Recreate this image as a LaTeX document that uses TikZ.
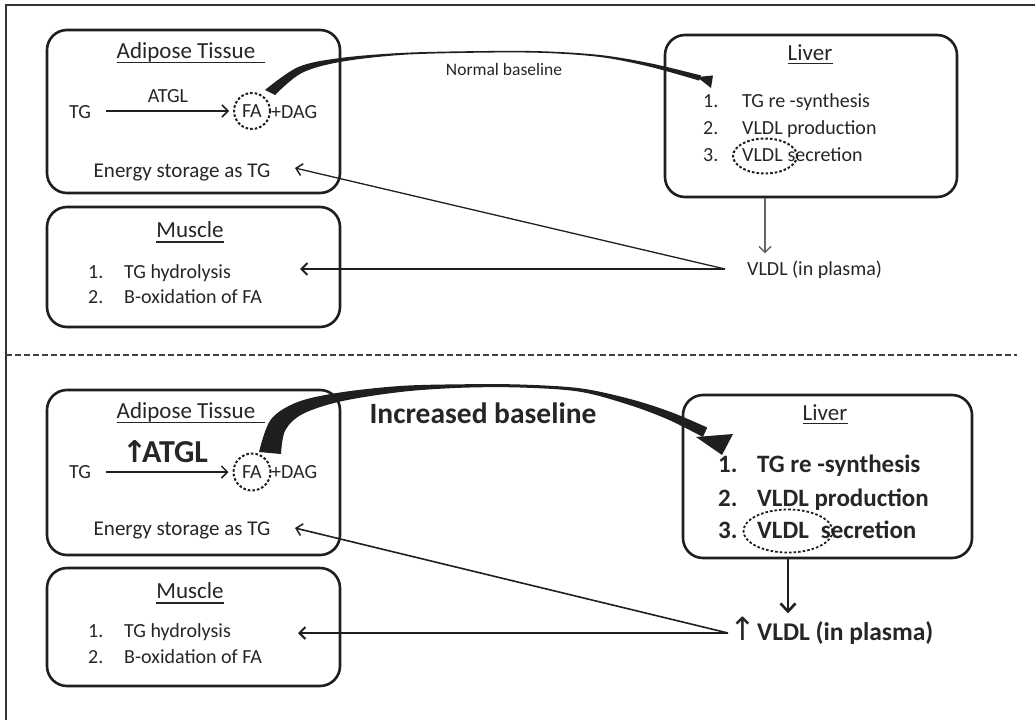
\documentclass[tikz,border=0pt]{standalone}
\usepackage{fontspec}
\setmainfont{Carlito}
\newfontfamily\symfont{DejaVu Sans}
\usetikzlibrary{arrows.meta,shapes.geometric,calc}
\colorlet{ink}{black!88}
\colorlet{txtc}{black!85}
\begin{document}
\begin{tikzpicture}[x=1pt,y=-1pt,
  organ/.style={draw=ink, line width=2.6pt, rounded corners=20pt, rectangle, inner sep=0},
  body/.style={anchor=base west, inner sep=0, text=txtc, font=\fontsize{20}{24}\selectfont},
  bbody/.style={anchor=base west, inner sep=0, text=txtc, font=\fontsize{25}{29}\bfseries\selectfont},
  ttl/.style={anchor=base, inner sep=0, text=txtc, font=\fontsize{23}{27}\selectfont},
  ctr/.style={anchor=base, inner sep=0, text=txtc, font=\fontsize{20}{24}\selectfont},
  ring/.style={draw=ink, line width=2pt, dash pattern=on 2.6pt off 2pt, inner sep=0},
  thin/.style={draw=ink, line width=1.3pt, -{Straight Barb[length=6pt,width=12pt,line width=1.5pt]}},
  thick/.style={draw=ink, line width=2.2pt, -{Straight Barb[length=6pt,width=12pt,line width=2pt]}},
  uline/.style={draw=txtc, line width=1.5pt}
]
\useasboundingbox (0,0) rectangle (1035,720);
\fill[white] (0,0) rectangle (1035,720);

% outer frame and panel separator
\draw[black!80, line width=1.6pt] (1035,5) -- (6,5) -- (6,720);
\draw[black!75, line width=2pt, dash pattern=on 6pt off 3pt] (6,355) -- (1017,355);

% ---------------- upper panel: normal baseline ----------------
\node[organ, minimum width=293pt, minimum height=163pt] (adi1) at (193.5,111.5) {};
\node[organ, minimum width=293pt, minimum height=120pt] (mus1) at (193.5,267) {};
\node[organ, minimum width=292pt, minimum height=162pt] (liv1) at (811,116) {};

\node[ttl] (adt1) at (186,58) {Adipose Tissue};
\draw[uline] ([yshift=-4.5pt]adt1.base west) -- ([xshift=10pt,yshift=-4.5pt]adt1.base east);
\node[ctr] (tg1) at (80,118) {TG};
\node[ctr] (atgl1) at (168,102) {ATGL};
\node[circle, ring, minimum size=36pt, text=txtc, font=\fontsize{20}{24}\selectfont] (fa1) at (252,111) {FA};
\node[body] (dag1) at (271,118) {+DAG};
\draw[thin] ([xshift=15pt]tg1.east |- fa1) -- ([xshift=-4pt]fa1.west);
\node[ctr, font=\fontsize{21}{25}\selectfont] (en1) at (182,177) {Energy storage as TG};

\node[ttl] (mut1) at (190,237) {Muscle};
\draw[uline] ([yshift=-5pt]mut1.base west) -- ([yshift=-5pt]mut1.base east);
\node[body] at (88,278) {1.};
\node[body] (hy1) at (124,278) {TG hydrolysis};
\node[body] at (88,303) {2.};
\node[body] at (124,303) {B-oxidation of FA};

\node[ttl] (lit1) at (810,60) {Liver};
\draw[uline] ([yshift=-3.5pt]lit1.base west) -- ([yshift=-3.5pt]lit1.base east);
\node[body] at (703,107) {1.};
\node[body] at (742,107) {TG re -synthesis};
\node[body] at (703,134) {2.};
\node[body] at (742,134) {VLDL production};
\node[body] at (703,161) {3.};
\node[body] at (742,161) {VLDL\hspace{5pt}secretion};
\node[ellipse, ring, minimum width=64pt, minimum height=35pt] (vl1) at (765,156) {};

\node[body] (pl1) at (747,275) {VLDL (in plasma)};
\coordinate (pl1o) at (725,269);
\coordinate (mu1in) at (300,269);
\coordinate (en1in) at (295,168);
\draw[black!60, line width=1.2pt, -{Straight Barb[length=6pt,width=12pt,line width=1.4pt]}]
  (vl1.south |- liv1.south) -- ++(0,55);
\draw[thick] (pl1o) -- (mu1in);
\draw[thin] (pl1o) -- (en1in);

% brush stroke carrying FA to the liver: thick start, thin middle, swelling end
\fill[ink] plot[smooth, tension=0.55] coordinates {(265,90) (298.3,67) (339.6,58.1) (400,53) (470,51.2) (540,51.2) (600,55) (650.4,63.3) (701,75.4)}
  -- plot[smooth, tension=0.55] coordinates {(699.2,80.6) (649.6,66.7) (600,57) (540,52.8) (470,52.8) (400,55) (340.4,61.9) (301.7,73) (275,95)}
  -- cycle;
\fill[ink] (697,77) -- (713,75.5) -- (711,88) -- cycle;
\node[anchor=base, inner sep=0, text=txtc, font=\fontsize{17.5}{20}\selectfont] at (504,75) {Normal baseline};

% ---------------- lower panel: increased baseline ----------------
\node[organ, minimum width=293pt, minimum height=165pt] (adi2) at (193.5,472.5) {};
\node[organ, minimum width=293pt, minimum height=118pt] (mus2) at (193.5,627) {};
\node[organ, minimum width=289pt, minimum height=163pt] (liv2) at (827.5,476.5) {};

\node[ttl] (adt2) at (186,418) {Adipose Tissue};
\draw[uline] ([yshift=-4.5pt]adt2.base west) -- ([xshift=10pt,yshift=-4.5pt]adt2.base east);
\node[ctr] (tg2) at (80,478) {TG};
\node[anchor=base, inner sep=0, text=txtc, font=\fontsize{32}{35}\bfseries\selectfont] (atgl2) at (165,462)
  {{\symfont\fontsize{30}{32}\selectfont ↑}\kern-5pt ATGL};
\node[circle, ring, minimum size=37pt, text=txtc, font=\fontsize{20}{24}\selectfont] (fa2) at (252,472) {FA};
\node[body] (dag2) at (271,478) {+DAG};
\draw[thin] ([xshift=15pt]tg2.east |- fa2) -- ([xshift=-4pt]fa2.west);
\node[ctr, font=\fontsize{21}{25}\selectfont] (en2) at (182,535) {Energy storage as TG};

\node[ttl] (mut2) at (190,598) {Muscle};
\draw[uline] ([yshift=-5pt]mut2.base west) -- ([yshift=-5pt]mut2.base east);
\node[body] at (88,637) {1.};
\node[body] (hy2) at (124,637) {TG hydrolysis};
\node[body] at (88,663) {2.};
\node[body] at (124,663) {B-oxidation of FA};

\node[ttl] (lit2) at (825,420) {Liver};
\draw[uline] ([yshift=-3.5pt]lit2.base west) -- ([yshift=-3.5pt]lit2.base east);
\node[bbody] at (718,472) {1.};
\node[bbody] at (757,472) {TG re -synthesis};
\node[bbody] at (718,506) {2.};
\node[bbody] at (757,506) {VLDL production};
\node[bbody] at (718,538) {3.};
\node[bbody] at (757,538) {VLDL\hspace{12pt}secretion};
\node[ellipse, ring, line width=1.8pt, minimum width=89pt, minimum height=43pt] (vl2) at (788,531) {};

\node[anchor=base west, inner sep=0, text=txtc, font=\fontsize{25.5}{30}\bfseries\selectfont] (pl2) at (757,640)
  {VLDL (in plasma)};
\node[anchor=base east, inner sep=0, text=txtc, font=\symfont\fontsize{32}{34}\selectfont] (up2) at (pl2.base west) {↑};
\coordinate (pl2o) at (728,633);
\coordinate (mu2in) at (298,633);
\coordinate (en2in) at (295,528);
\draw[draw=ink, line width=2.6pt, -{Straight Barb[length=8pt,width=15pt,line width=2.6pt]}]
  (vl2.south |- liv2.south) -- ++(0,54);
\draw[thick, line width=2pt] (pl2o) -- (mu2in);
\draw[thin, line width=1.6pt] (pl2o) -- (en2in);

% heavy brush stroke carrying FA to the liver
\fill[ink] plot[smooth, tension=0.55] coordinates {(259,452) (270.8,419.6) (297.2,402.2) (339.2,392.6) (399.8,386) (460,384.3) (520,384.5) (580.3,388.3) (630.9,399.2) (671.5,412.3) (707.2,427.5)}
  -- plot[smooth, tension=0.55] coordinates {(702.9,437) (668.5,419.7) (629.1,404.9) (579.7,391.7) (520,387.5) (460,387.8) (400.2,392) (340.8,401.4) (302.8,413.9) (285.2,430.4) (281,454)}
  -- cycle;
\fill[ink] (696,437) -- (733,434) -- (722,455) -- cycle;
\node[anchor=base, inner sep=0, text=txtc, font=\fontsize{29.5}{33}\bfseries\selectfont] at (483,423) {Increased baseline};
\end{tikzpicture}
\end{document}
